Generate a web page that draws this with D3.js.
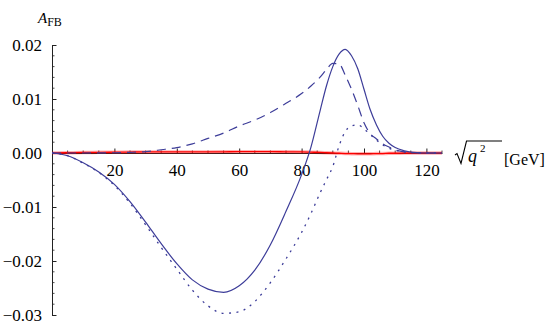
<!DOCTYPE html>
<html>
<head>
<meta charset="UTF-8">
<script src="https://d3js.org/d3.v7.min.js"></script>
<style>
  body { margin: 0; background: #fff; }
  svg text { font-family: 'Liberation Serif', 'DejaVu Serif', serif !important; }
</style>
</head>
<body>
<div id="chart"></div>
<script>
// sqrt(q^2) in GeV
var qValues = [0, 5, 10, 15, 20, 25, 30, 35, 40, 45, 50, 55, 60, 65, 70, 75, 80, 83, 86, 88, 90, 92, 94, 96, 98, 100, 102, 104, 106, 108, 110, 113, 116, 120, 125];

// total (solid)
var solidValues = [0, -0.0005, -0.0018, -0.0035, -0.0058, -0.0090, -0.0128, -0.0168, -0.0205, -0.0235, -0.0252, -0.0258, -0.0246, -0.0217, -0.0170, -0.0108, -0.0040, 0.0011, 0.0080, 0.0125, 0.0160, 0.0183, 0.0192, 0.0180, 0.0156, 0.0118, 0.0080, 0.0052, 0.0031, 0.0018, 0.0010, 0.0004, 0.0001, 0, 0];

// dashed
var dashedValues = [0, 0, 0, 0.00002, 0.00005, 0.00012, 0.00025, 0.0006, 0.0010, 0.0017, 0.0027, 0.0037, 0.0050, 0.0061, 0.0075, 0.0092, 0.0110, 0.0124, 0.0141, 0.0155, 0.0166, 0.0165, 0.0144, 0.0118, 0.0088, 0.0056, 0.0036, 0.0026, 0.0017, 0.0011, 0.0006, 0.0002, 0.00005, 0, 0];

// dotted
var dottedValues = [0, -0.0005, -0.0019, -0.0036, -0.0060, -0.0093, -0.0133, -0.0175, -0.0215, -0.0254, -0.0283, -0.0297, -0.0294, -0.0275, -0.0240, -0.0196, -0.0147, -0.0112, -0.0073, -0.0049, -0.0025, 0.0013, 0.0040, 0.0050, 0.0052, 0.0045, 0.0034, 0.0024, 0.0015, 0.0009, 0.0005, 0.0002, 0.00005, 0, 0];

// red curve, almost on the axis
var redValues = [0, 0.00005, 0.0001, 0.00012, 0.00015, 0.00018, 0.0002, 0.0002, 0.0002, 0.0002, 0.0002, 0.00022, 0.00025, 0.00025, 0.00025, 0.00022, 0.0002, 0.00015, 0.0001, 0.00005, 0, -0.00005, -0.0001, -0.00012, -0.00015, -0.00015, -0.00015, -0.0001, -0.0001, -0.00005, -0.00005, 0, 0, 0, 0];

var xMajorTicks = [20, 40, 60, 80, 100, 120];
var yMajorTicks = [-0.03, -0.02, -0.01, 0, 0.01, 0.02];

var width = 545, height = 327;

var svg = d3.select("#chart").append("svg")
  .attr("width", width)
  .attr("height", height);

var x = d3.scaleLinear().domain([0, 125]).range([52, 442]);
var y = d3.scaleLinear().domain([-0.03, 0.02]).range([315, 45]);

var axisColor = "#222";

// minor ticks
var xMinor = d3.range(5, 126, 5).filter(function (d) { return d % 20 !== 0; });
var yMinor = d3.range(-30, 21, 2).map(function (d) { return d / 1000; })
  .filter(function (d) { return Math.abs(Math.round(d * 1000)) % 10 !== 0; });

svg.append("g")
  .selectAll("line")
  .data(xMinor)
  .enter().append("line")
  .attr("x1", function (d) { return x(d); })
  .attr("x2", function (d) { return x(d); })
  .attr("y1", y(0))
  .attr("y2", y(0) - 2.5)
  .attr("stroke", axisColor)
  .attr("stroke-width", 0.8);

svg.append("g")
  .selectAll("line")
  .data(yMinor)
  .enter().append("line")
  .attr("x1", x(0))
  .attr("x2", x(0) + 2.5)
  .attr("y1", function (d) { return y(d); })
  .attr("y2", function (d) { return y(d); })
  .attr("stroke", axisColor)
  .attr("stroke-width", 0.8);

// x axis
var xAxis = svg.append("g")
  .attr("transform", "translate(0," + y(0) + ")")
  .call(d3.axisBottom(x).tickValues(xMajorTicks).tickSizeInner(-4.5).tickSizeOuter(0).tickPadding(11));
xAxis.attr("font-size", 17);
xAxis.select(".domain").attr("stroke", axisColor);
xAxis.selectAll(".tick line").attr("stroke", axisColor);

// y axis
var yFormat = function (d) {
  return d3.format(".2f")(d).replace("-", "\u2212");
};
var yAxis = svg.append("g")
  .attr("transform", "translate(" + x(0) + ",0)")
  .call(d3.axisLeft(y).tickValues(yMajorTicks).tickFormat(yFormat).tickSizeInner(-4.5).tickSizeOuter(0).tickPadding(10));
yAxis.attr("font-size", 17);
yAxis.select(".domain").attr("stroke", axisColor);
yAxis.selectAll(".tick line").attr("stroke", axisColor);

// curves
function makeLine(values) {
  return d3.line()
    .x(function (d, i) { return x(qValues[i]); })
    .y(function (d) { return y(d); })
    .curve(d3.curveMonotoneX)(values);
}

var blue = "#3d3d99";

svg.append("path")
  .attr("d", makeLine(redValues))
  .attr("fill", "none")
  .attr("stroke", "rgba(255,0,0,0.3)")
  .attr("stroke-width", 3.5);

svg.append("path")
  .attr("d", makeLine(redValues))
  .attr("fill", "none")
  .attr("stroke", "#ff0000")
  .attr("stroke-width", 1.3);

svg.append("path")
  .attr("d", makeLine(dashedValues))
  .attr("fill", "none")
  .attr("stroke", blue)
  .attr("stroke-width", 1.2)
  .attr("stroke-dasharray", "9,6");

svg.append("path")
  .attr("d", makeLine(dottedValues))
  .attr("fill", "none")
  .attr("stroke", blue)
  .attr("stroke-width", 1.3)
  .attr("stroke-dasharray", "2,5.5");

svg.append("path")
  .attr("d", makeLine(solidValues))
  .attr("fill", "none")
  .attr("stroke", blue)
  .attr("stroke-width", 1.2);

// y label A_FB
var yLabel = svg.append("text")
  .attr("x", 38)
  .attr("y", 23)
  .attr("font-size", 15);
yLabel.append("tspan").attr("font-style", "italic").text("A");
yLabel.append("tspan").attr("dy", 3).attr("font-size", 12).text("FB");

// x label sqrt(q^2) [GeV]
svg.append("path")
  .attr("d", "M455,155 L457,153.5 L461,163.5 L466.5,141 L502,141")
  .attr("fill", "none")
  .attr("stroke", "#000")
  .attr("stroke-width", 1.1);

svg.append("text")
  .attr("x", 468)
  .attr("y", 162)
  .attr("font-size", 18)
  .attr("font-style", "italic")
  .text("q");

svg.append("text")
  .attr("x", 480)
  .attr("y", 152)
  .attr("font-size", 11)
  .text("2");

svg.append("text")
  .attr("x", 504)
  .attr("y", 165)
  .attr("font-size", 16)
  .text("[GeV]");
</script>
</body>
</html>
